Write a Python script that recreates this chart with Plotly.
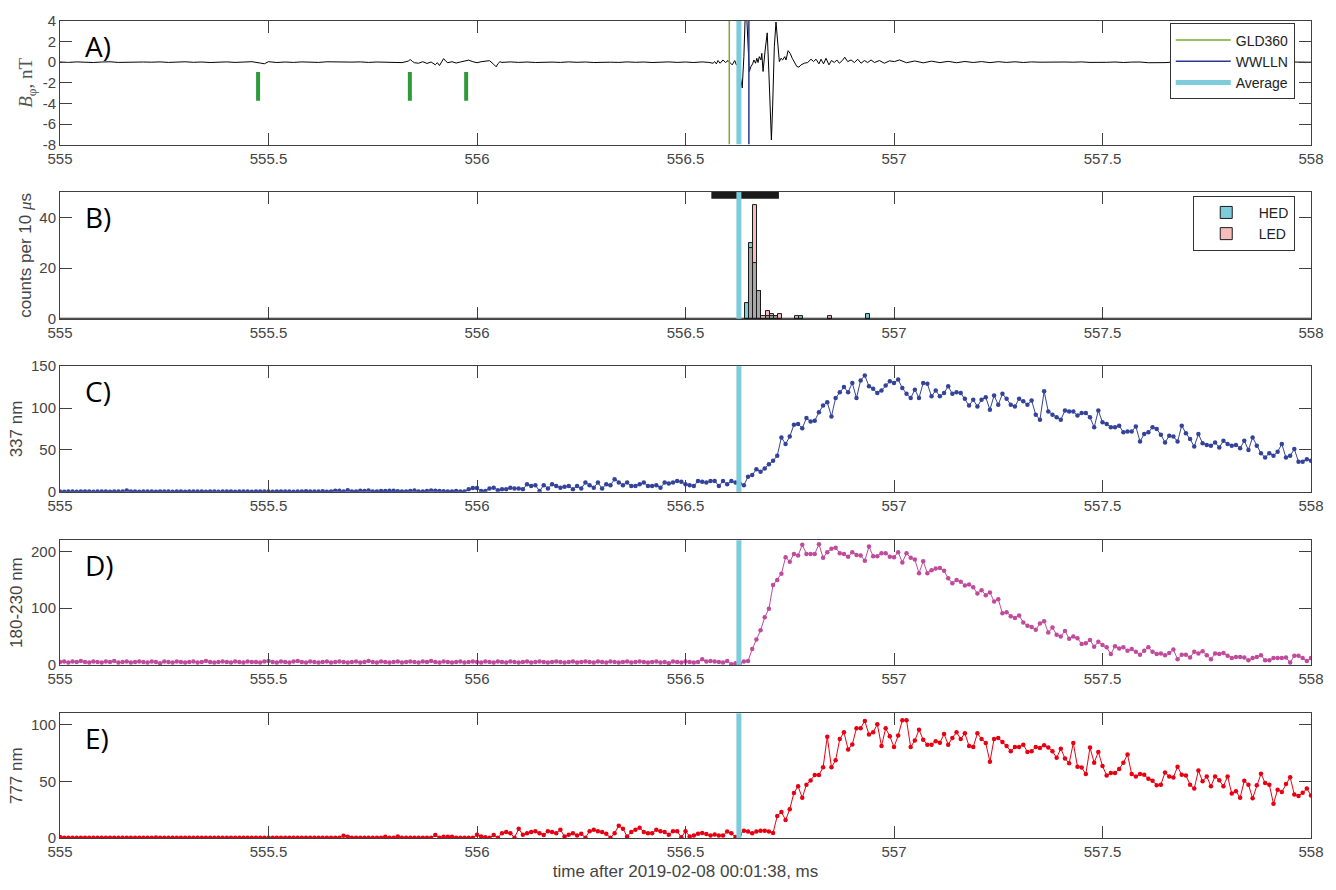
import numpy as np
import plotly.graph_objects as go
from plotly.subplots import make_subplots

# ---- data ----
T0 = 555.0
DT = 0.01   # optical photometer samples, 10 us

# lightning times (ms)
T_GLD = 556.605
T_WWLLN = 556.652
T_AVG = 556.628
early_strokes = [555.475, 555.839, 555.974]
tgf_window = [556.562, 556.724]

# A) magnetic field waveform, (time ms, B nT)
wave = [
    (555.00, 0.02), (555.02, -0.02), (555.04, 0.03), (555.06, 0.00), (555.08, -0.03),
    (555.10, 0.02), (555.12, 0.04), (555.14, -0.02), (555.16, 0.01), (555.18, -0.03),
    (555.20, 0.02), (555.22, 0.00), (555.24, 0.03), (555.26, -0.02), (555.28, 0.01),
    (555.30, 0.04), (555.32, -0.01), (555.34, 0.02), (555.36, -0.03), (555.38, 0.01),
    (555.40, 0.03), (555.42, -0.02), (555.44, 0.02), (555.46, 0.05), (555.48, -0.08),
    (555.49, -0.15), (555.50, 0.05), (555.52, -0.03), (555.54, 0.02), (555.56, -0.02),
    (555.58, 0.03), (555.60, 0.00), (555.62, -0.02), (555.64, 0.04), (555.66, 0.02),
    (555.68, -0.03), (555.70, 0.01), (555.72, 0.03), (555.74, -0.02), (555.76, 0.02),
    (555.78, -0.01), (555.80, 0.03), (555.82, -0.04), (555.835, 0.10), (555.84, 0.26),
    (555.845, 0.08), (555.85, -0.05), (555.86, -0.10), (555.87, 0.05), (555.88, -0.12),
    (555.89, 0.02), (555.90, -0.25), (555.905, -0.05), (555.91, -0.32), (555.915, 0.05),
    (555.92, 0.35), (555.925, 0.10), (555.93, -0.05), (555.94, 0.05), (555.95, -0.08),
    (555.96, 0.02), (555.97, 0.08), (555.98, 0.20), (555.99, 0.05), (556.00, -0.05),
    (556.01, 0.05), (556.02, 0.08), (556.03, 0.15), (556.04, -0.20), (556.046, -0.45),
    (556.05, -0.15), (556.055, 0.05), (556.06, -0.02), (556.08, 0.03), (556.10, -0.02),
    (556.12, 0.02), (556.14, -0.03), (556.16, 0.02), (556.18, 0.01), (556.20, -0.02),
    (556.22, 0.03), (556.24, -0.01), (556.26, 0.02), (556.28, -0.03), (556.30, 0.02),
    (556.32, 0.00), (556.34, -0.02), (556.36, 0.03), (556.38, -0.01), (556.40, 0.02),
    (556.42, -0.03), (556.44, 0.01), (556.46, 0.03), (556.48, -0.02), (556.50, 0.02),
    (556.52, -0.03), (556.54, 0.03), (556.556, -0.02), (556.566, -0.10), (556.570, 0.06),
    (556.574, -0.16), (556.578, 0.16), (556.583, -0.10), (556.590, 0.22), (556.596, -0.03),
    (556.602, 0.16), (556.607, -0.03), (556.612, -0.26), (556.618, 0.16), (556.622, -0.26),
    (556.626, -0.10), (556.630, -1.06), (556.636, -2.50), (556.640, 0.54), (556.643, 4.3),
    (556.647, 4.3), (556.650, 1.2), (556.653, -0.90), (556.657, -0.42), (556.661, -0.16),
    (556.664, 0.22), (556.668, -0.10), (556.671, 0.38), (556.674, -0.03), (556.677, 0.54),
    (556.681, 0.22), (556.683, 0.86), (556.686, -0.90), (556.691, 1.18), (556.696, 2.85),
    (556.700, -1.06), (556.703, -5.20), (556.706, -7.55), (556.709, -4.26), (556.713, 1.50),
    (556.717, 3.90), (556.721, 1.50), (556.725, 0.06), (556.729, 0.38), (556.733, 0.22),
    (556.738, 0.54), (556.741, 0.22), (556.746, 1.12), (556.751, 0.86), (556.756, 0.38),
    (556.761, 0.06), (556.767, -0.42), (556.772, -0.48), (556.777, -0.26), (556.785, -0.10),
    (556.793, -0.03), (556.801, 0.29), (556.807, 0.06), (556.813, 0.29), (556.820, -0.16),
    (556.825, 0.29), (556.831, -0.16), (556.837, 0.38), (556.844, -0.26), (556.850, 0.16),
    (556.857, -0.03), (556.863, 0.22), (556.869, -0.10), (556.876, 0.16), (556.882, 0.48),
    (556.889, 0.06), (556.897, 0.22), (556.905, -0.03), (556.913, 0.29), (556.921, -0.10),
    (556.929, 0.16), (556.937, -0.03), (556.945, 0.22), (556.953, -0.03), (556.965, 0.16),
    (556.977, -0.10), (556.989, 0.13), (557.001, 0.06), (557.013, 0.22), (557.03, -0.05),
    (557.05, 0.12), (557.07, -0.06), (557.09, 0.10), (557.11, -0.04), (557.13, 0.08),
    (557.15, -0.05), (557.17, 0.07), (557.19, -0.03), (557.21, 0.06), (557.23, -0.04),
    (557.25, 0.05), (557.27, -0.02), (557.29, 0.04), (557.31, -0.03), (557.33, 0.03),
    (557.35, 0.00), (557.37, 0.02), (557.39, -0.02), (557.41, 0.02), (557.43, 0.00),
    (557.45, 0.03), (557.47, -0.02), (557.49, 0.02), (557.51, -0.01), (557.53, 0.02),
    (557.55, -0.03), (557.57, 0.01), (557.59, 0.02), (557.61, -0.05), (557.63, -0.08),
    (557.65, -0.04), (557.67, 0.02), (557.69, -0.01), (557.71, 0.03), (557.73, 0.00),
    (557.75, -0.02), (557.77, 0.02), (557.79, 0.01), (557.81, -0.02), (557.83, 0.03),
    (557.85, 0.00), (557.87, -0.02), (557.89, 0.02), (557.91, 0.00), (557.93, -0.03),
    (557.95, 0.02), (557.97, 0.01), (557.99, -0.02), (558.00, 0.00),
]
a_time = [w[0] for w in wave]
a_field = [w[1] for w in wave]

# B) gamma counts per 10 us bin (bin centres)
hist_t = [556.647, 556.657, 556.667, 556.677, 556.687, 556.697, 556.707,
          556.717, 556.727, 556.767, 556.777, 556.847, 556.937]
hed_counts = [6, 30, 22, 11, 0, 1, 1, 1, 0, 0, 1, 0, 2]
led_counts = [0, 28, 45, 11, 1, 3, 2, 1, 2, 1, 0, 1, 0]

# C) 337 nm photometer
c_337 = [
    0.3, 0.2, 0.4, 0.3, 0.2, 0.3, 0.4, 0.3, 0.2, 0.3,   # 555.0
    0.4, 0.3, 0.2, 0.3, 0.4, 0.3, 1.6, 0.4, 0.3, 0.2,   # 555.1
    0.3, 0.4, 0.3, 0.2, 0.3, 0.4, 0.3, 0.2, 0.4, 0.3,   # 555.2
    0.2, 0.3, 0.4, 0.3, 0.3, 0.2, 0.4, 0.3, 0.2, 0.3,   # 555.3
    0.4, 0.3, 0.2, 0.3, 0.4, 0.3, 0.2, 0.3, 0.4, 0.3,   # 555.4
    0.3, 0.2, 0.4, 0.3, 0.5, 0.3, 0.2, 0.4, 0.3, 0.6,   # 555.5
    0.3, 0.4, 0.3, 0.6, 0.2, 0.4, 1.4, 1.2, 0.4, 1.8,   # 555.6
    0.3, 0.4, 1.2, 1.0, 1.5, 0.3, 0.4, 1.0, 1.0, 1.2,   # 555.7
    1.4, 0.6, 0.4, 0.3, 1.0, 1.5, 0.3, 0.3, 1.0, 1.6,   # 555.8
    1.2, 1.0, 0.8, 0.4, 0.3, 1.0, 0.4, 0.5, 3.0, 4.5,   # 555.9
    4.7, 1, 1, 4, 5, 2, 3, 3, 5, 4,                     # 556.0
    4, 3, 9, 7, 8, 1, 8, 4, 9, 7,                       # 556.1
    5, 6, 7, 3, 7, 4, 11, 8, 5, 11,                     # 556.2
    4, 9, 8, 15, 11, 8, 11, 7, 7, 9,                    # 556.3
    11, 7, 7, 8, 5, 11, 10, 11, 13, 12,                 # 556.4
    9, 8, 7, 13, 12, 11, 13, 13, 7, 13,                 # 556.5
    9, 13, 11, 10, 8, 18, 20, 27, 24, 28,               # 556.6
    33, 37, 43, 65, 57, 66, 80, 81, 76, 88,             # 556.7
    84, 85, 95, 103, 107, 90, 112, 119, 125, 119,       # 556.8
    130, 112, 133, 139, 126, 123, 118, 121, 127, 132,   # 556.9
    130, 134, 124, 117, 112, 122, 112, 130, 129, 114,   # 557.0
    121, 114, 118, 126, 117, 119, 118, 111, 103, 110,   # 557.1
    102, 110, 113, 98, 115, 104, 117, 111, 104, 102,    # 557.2
    111, 108, 104, 109, 92, 86, 120, 96, 92, 89,        # 557.3
    86, 97, 96, 96, 91, 94, 94, 89, 77, 97,             # 557.4
    83, 81, 77, 77, 79, 71, 72, 72, 78, 60,             # 557.5
    69, 71, 77, 75, 68, 59, 67, 66, 60, 79,             # 557.6
    70, 63, 54, 69, 58, 56, 55, 59, 53, 61,             # 557.7
    57, 55, 56, 52, 61, 50, 65, 55, 46, 41,             # 557.8
    46, 43, 48, 57, 41, 43, 51, 36, 36, 39,             # 557.9
    37,
]

# D) 180-230 nm photometer
d_uv = [
    5, 6, 4, 6, 5, 7, 5, 4, 6, 5,             # 555.0
    4, 6, 5, 7, 4, 5, 6, 4, 5, 6,             # 555.1
    5, 4, 6, 5, 3, 6, 5, 4, 6, 5,             # 555.2
    4, 5, 6, 4, 5, 7, 5, 4, 5, 6,             # 555.3
    5, 4, 6, 5, 4, 6, 5, 5, 4, 6,             # 555.4
    7, 5, 4, 6, 5, 4, 6, 7, 5, 4,             # 555.5
    6, 5, 4, 5, 6, 4, 5, 6, 5, 4,             # 555.6
    5, 6, 4, 5, 7, 5, 4, 6, 5, 4,             # 555.7
    5, 6, 4, 5, 6, 5, 4, 6, 5, 7,             # 555.8
    5, 4, 6, 5, 4, 5, 6, 4, 5, 6,             # 555.9
    5, 4, 6, 5, 4, 6, 5, 4, 6, 5,             # 556.0
    4, 5, 6, 4, 5, 6, 5, 4, 5, 6,             # 556.1
    5, 4, 5, 6, 4, 5, 6, 5, 4, 6,             # 556.2
    5, 4, 6, 5, 4, 5, 6, 4, 5, 6,             # 556.3
    5, 4, 5, 6, 4, 5, 3, 6, 5, 4,             # 556.4
    6, 5, 4, 5, 10, 6, 7, 6, 5, 4,            # 556.5
    7, 1, 3, 3, 6, 7, 28, 45, 61, 84,         # 556.6
    99, 141, 150, 161, 190, 182, 196, 193, 212, 196,   # 556.7
    196, 196, 213, 189, 199, 205, 207, 197, 196, 191,  # 556.8
    199, 194, 193, 184, 209, 192, 192, 197, 197, 191,  # 556.9
    190, 199, 181, 197, 189, 186, 162, 183, 162, 167,  # 557.0
    170, 171, 166, 153, 144, 150, 147, 140, 142, 137,  # 557.1
    126, 132, 123, 128, 112, 116, 91, 93, 86, 83,      # 557.2
    87, 75, 69, 67, 62, 73, 77, 57, 66, 53,            # 557.3
    50, 60, 46, 50, 47, 37, 38, 44, 32, 41,            # 557.4
    35, 31, 19, 33, 29, 31, 25, 28, 23, 18,            # 557.5
    25, 31, 23, 19, 20, 17, 21, 27, 10, 18,            # 557.6
    18, 13, 23, 20, 24, 17, 10, 20, 19, 21,            # 557.7
    16, 12, 14, 14, 13, 8, 12, 14, 17, 8,              # 557.8
    8, 12, 12, 12, 13, 4, 16, 16, 12, 7,               # 557.9
    12,
]

# E) 777 nm photometer
e_777 = [
    0.8, 0.3, 0.2, 0.3, 0.3, 0.2, 0.3, 0.3, 0.2, 0.3,   # 555.0
    0.3, 0.2, 0.3, 0.3, 0.2, 0.3, 0.3, 0.2, 0.3, 0.3,   # 555.1
    0.2, 0.3, 0.3, 0.5, 0.3, 0.2, 0.3, 0.3, 0.2, 0.3,   # 555.2
    0.3, 0.2, 0.3, 0.3, 0.2, 0.3, 0.3, 0.2, 0.3, 0.3,   # 555.3
    0.2, 0.3, 0.3, 0.2, 0.3, 0.3, 0.2, 0.3, 0.3, 0.2,   # 555.4
    0.3, 0.3, 0.2, 0.3, 0.3, 0.2, 0.3, 0.3, 0.2, 0.3,   # 555.5
    0.3, 0.2, 0.3, 0.3, 0.2, 0.3, 0.3, 0.2, 2.0, 1.2,   # 555.6
    0.3, 0.2, 0.3, 0.3, 0.2, 0.3, 0.3, 0.2, 1.2, 0.3,   # 555.7
    0.3, 1.4, 0.2, 0.3, 0.3, 0.2, 0.3, 0.3, 0.2, 0.3,   # 555.8
    2.6, 0.3, 1.0, 1.0, 1.0, 0.3, 0.3, 0.2, 0.3, 0.3,   # 555.9
    2.9, 1.4, 0.6, 0.2, 2.6, 0.2, 4.3, 5.2, 4.3, 0.2,   # 556.0
    8.1, 2.9, 4.3, 5.2, 6.0, 4.3, 2.6, 6.0, 5.2, 4.3,   # 556.1
    7.2, 1.4, 2.9, 4.3, 2.3, 3.8, 0.2, 6.0, 7.2, 6.0,   # 556.2
    5.2, 3.8, 0.2, 4.3, 10.9, 8.1, 1.4, 5.2, 7.2, 9.0,  # 556.3
    5.2, 4.3, 4.3, 7.2, 6.0, 5.2, 2.9, 6.0, 6.0, 0.6,   # 556.4
    6.0, 1.4, 2.3, 3.8, 4.5, 3.6, 2.2, 3.1, 2.2, 2.2,   # 556.5
    5.7, 4.2, 0.8, 3.0, 6.5, 5.7, 4.2, 5.7, 6.5, 6.5,   # 556.6
    5.7, 4.5, 19.4, 23.0, 15.8, 25.4, 39.8, 45.6, 35.5, 47.1,      # 556.7
    50.8, 55.7, 55.7, 62.4, 89.5, 62.4, 68.7, 87.5, 93.3, 78.2,    # 556.8
    82.6, 97.0, 97.0, 103.4, 91.3, 93.3, 100.5, 81.2, 96.8, 89.8,  # 556.9
    80.3, 90.4, 104.0, 104.0, 80.3, 86.1, 95.6, 86.7, 82.4, 82.4,  # 557.0
    85.5, 84.0, 91.9, 82.4, 88.4, 93.3, 87.5, 92.4, 81.2, 80.3,    # 557.1
    92.4, 87.5, 83.8, 67.3, 87.5, 88.4, 84.7, 81.2, 76.6, 80.4,    # 557.2
    80.4, 82.4, 76.0, 76.6, 80.4, 79.5, 81.8, 79.8, 76.6, 70.8,    # 557.3
    78.9, 70.3, 65.9, 83.8, 63.0, 62.2, 56.4, 79.8, 66.5, 76.0,    # 557.4
    63.6, 55.2, 57.3, 57.3, 61.0, 66.5, 73.7, 56.4, 54.4, 56.4,    # 557.5
    55.8, 52.3, 50.6, 46.5, 47.1, 57.9, 54.4, 53.5, 63.0, 55.8,    # 557.6
    55.2, 47.1, 43.6, 59.6, 50.0, 54.4, 45.7, 54.4, 50.9, 45.7,    # 557.7
    54.4, 39.3, 41.3, 35.5, 50.6, 47.1, 35.0, 46.5, 56.7, 48.6,    # 557.8
    47.1, 30.3, 42.7, 40.7, 47.7, 53.7, 38.4, 37.0, 39.9, 43.6,    # 557.9
    37.5,
]

t_opt = np.round(T0 + DT * np.arange(len(c_337)), 2)

# ---- style ----
AX = '#404040'
TXT = '#444444'
C_GLD = '#77ac30'
C_WWLLN = '#2b3990'
C_AVG = '#7ecbdc'
C_MARK = '#2e9a3c'
C_HED = '#7ecbdc'
C_LED = '#f7bcbc'
C_BOTH = '#a8a8a8'
A_RANGE = [-8, 4]
MARK_Y = [-0.95, -3.75]

fig = make_subplots(rows=5, cols=1)

# A)
fig.add_trace(go.Scatter(x=a_time, y=a_field, mode='lines',
                         line=dict(color='black', width=1), showlegend=False), 1, 1)
mx, my = [], []
for t in early_strokes:
    mx += [t, t, None]
    my += MARK_Y + [None]
fig.add_trace(go.Scatter(x=mx, y=my, mode='lines', line=dict(color=C_MARK, width=4),
                         showlegend=False), 1, 1)
for name, t, col, w in [('GLD360', T_GLD, C_GLD, 1.5),
                        ('WWLLN', T_WWLLN, C_WWLLN, 1.5),
                        ('Average', T_AVG, C_AVG, 5)]:
    fig.add_trace(go.Scatter(x=[t, t], y=A_RANGE, mode='lines', name=name,
                             line=dict(color=col, width=w), legend='legend'), 1, 1)

# B)
both = [min(h, l) for h, l in zip(hed_counts, led_counts)]
edge = dict(color='#1a1a1a', width=1)
fig.add_trace(go.Bar(x=hist_t, y=hed_counts, width=DT, name='HED', legend='legend2',
                     marker=dict(color=C_HED, line=edge)), 2, 1)
fig.add_trace(go.Bar(x=hist_t, y=led_counts, width=DT, name='LED', legend='legend2',
                     marker=dict(color=C_LED, line=edge)), 2, 1)
fig.add_trace(go.Bar(x=hist_t, y=both, width=DT, showlegend=False,
                     marker=dict(color=C_BOTH, line=edge)), 2, 1)
fig.add_shape(type='line', xref='x2 domain', x0=0, x1=1, yref='y2', y0=0, y1=0,
              line=dict(color='#1a1a1a', width=2))
fig.add_shape(type='rect', xref='x2', x0=tgf_window[0], x1=tgf_window[1],
              yref='y2 domain', y0=0.948, y1=1.0, fillcolor='#1a1a1a', line_width=0)

# C) D) E)
for row, ys, col in [(3, c_337, '#34439a'), (4, d_uv, '#c04b9d'), (5, e_777, '#e60012')]:
    fig.add_trace(go.Scatter(x=t_opt, y=ys, mode='lines+markers', showlegend=False,
                             line=dict(color=col, width=1),
                             marker=dict(color=col, size=4.5)), row, 1)

for row in range(2, 6):
    fig.add_vline(x=T_AVG, line=dict(color=C_AVG, width=5), row=row, col=1)

# ---- axes ----
axis = dict(showline=True, linecolor=AX, linewidth=1, mirror='ticks', ticks='inside',
            ticklen=12, tickcolor=AX, tickfont=dict(size=15, color=TXT),
            showgrid=False, zeroline=False)
for row in range(1, 6):
    fig.update_xaxes(axis, range=[555, 558], tick0=555, dtick=0.5, row=row, col=1)

domains = [[0.8487, 1.0], [0.6356, 0.7906], [0.4237, 0.5775], [0.2119, 0.3644], [0.0, 0.1525]]
a_ticks = [-8, -6, -4, -2, 0, 2, 4]
ytitle_font = dict(size=17, color=TXT)
fig.update_yaxes(axis, domain=domains[0], range=A_RANGE, tickvals=a_ticks,
                 ticktext=[str(v) for v in a_ticks], row=1, col=1,
                 title=dict(text='<i>B</i><sub>φ</sub>, nT', standoff=4,
                            font=dict(family='Liberation Serif', size=19, color='#555')))
fig.update_yaxes(axis, domain=domains[1], range=[0, 50], tickvals=[0, 20, 40], row=2, col=1,
                 title=dict(text="counts per 10 <span style='font-family:Liberation Serif'><i>μ</i></span>s",
                            standoff=3, font=ytitle_font))
fig.update_yaxes(axis, domain=domains[2], range=[0, 150], tickvals=[0, 50, 100, 150], row=3, col=1,
                 title=dict(text='337 nm', standoff=4, font=ytitle_font))
fig.update_yaxes(axis, domain=domains[3], range=[0, 220], tickvals=[0, 100, 200], row=4, col=1,
                 title=dict(text='180-230 nm', standoff=4, font=ytitle_font))
fig.update_yaxes(axis, domain=domains[4], range=[0, 110], tickvals=[0, 50, 100], row=5, col=1,
                 title=dict(text='777 nm', standoff=4, font=ytitle_font))
fig.update_xaxes(title=dict(text='time after 2019-02-08 00:01:38, ms', standoff=6,
                            font=dict(size=17, color=TXT)), row=5, col=1)

# panel letters
for i, lab in enumerate(['A)', 'B)', 'C)', 'D)', 'E)']):
    sfx = '' if i == 0 else str(i + 1)
    fig.add_annotation(text=lab, xref='x%s domain' % sfx, yref='y%s domain' % sfx,
                       x=0.018, y=0.8, xanchor='left', yanchor='middle', showarrow=False,
                       font=dict(family='Open Sans', size=28, color='black'))

legend_style = dict(xanchor='right', yanchor='top', bgcolor='white', bordercolor='#333',
                    borderwidth=1, font=dict(size=14, color='#222'), itemwidth=55,
                    tracegroupgap=0)
fig.update_layout(
    width=1336, height=890,
    margin=dict(l=60, r=24, t=14, b=50),
    paper_bgcolor='white', plot_bgcolor='white',
    font=dict(family='Liberation Sans, Arial', color=TXT),
    barmode='overlay', bargap=0,
    legend=dict(legend_style, x=0.987, y=0.997),
    legend2=dict(legend_style, x=0.987, y=0.786),
)

# page margin would shift the 1336x890 figure out of the window
fig.write_html("out.html", config={'displayModeBar': False},
               post_script="document.body.style.margin='0';")
